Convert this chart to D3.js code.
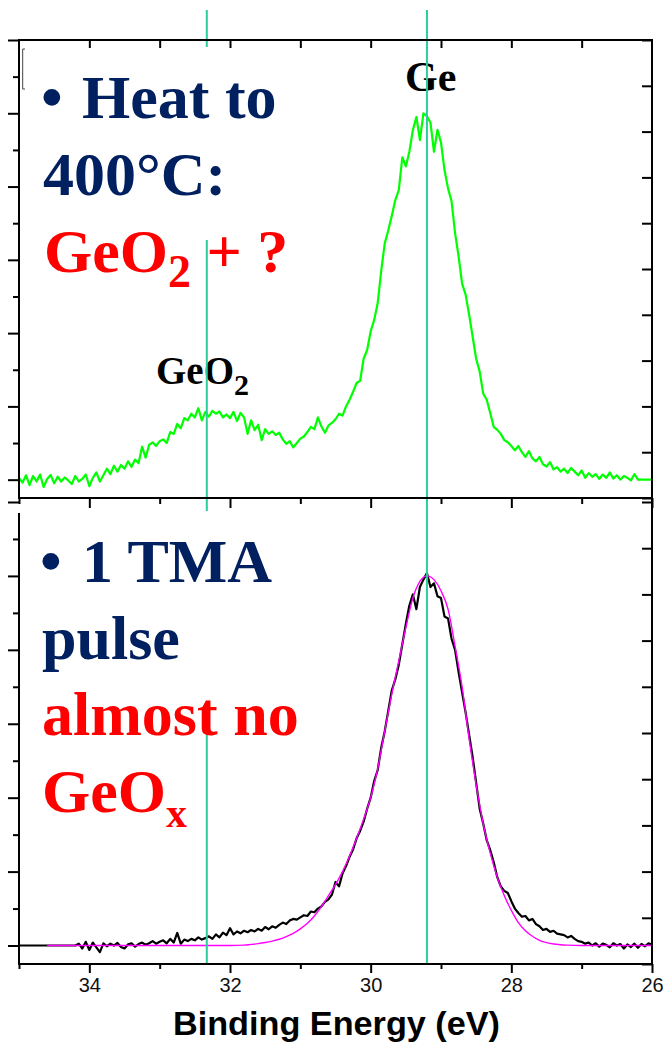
<!DOCTYPE html>
<html>
<head>
<meta charset="utf-8">
<script src="https://cdn.jsdelivr.net/npm/d3@7"></script>
<style>
  html, body { margin: 0; padding: 0; background: #fff; }
  svg { display: block; }
</style>
</head>
<body>
<svg id="chart" width="663" height="1043"></svg>
<script>
// Ge 3d spectra: [binding energy (eV), intensity (arb. units)]
const heatedSpectrum = [
  [35.00,0.05],[34.95,-0.08],[34.90,0.12],[34.85,-0.15],[34.80,0.10],[34.75,-0.05],[34.70,0.14],[34.65,-0.20],
  [34.60,0.02],[34.55,0.13],[34.50,-0.10],[34.45,0.08],[34.40,-0.05],[34.35,0.06],[34.30,-0.02],[34.25,-0.12],
  [34.20,0.10],[34.15,-0.05],[34.10,0.02],[34.05,0.14],[34.00,-0.18],[33.95,0.05],[33.90,0.20],[33.85,-0.05],
  [33.80,0.12],[33.75,0.30],[33.70,0.15],[33.65,0.38],[33.60,0.22],[33.55,0.40],[33.50,0.30],[33.45,0.50],
  [33.40,0.35],[33.35,0.55],[33.30,0.45],[33.25,0.90],[33.20,0.60],[33.15,0.95],[33.10,1.02],[33.05,0.92],
  [33.00,1.05],[32.95,1.10],[32.90,1.00],[32.85,1.30],[32.80,1.25],[32.75,1.52],[32.70,1.40],[32.65,1.68],
  [32.60,1.62],[32.55,1.80],[32.50,1.70],[32.45,1.95],[32.40,1.62],[32.35,1.85],[32.30,1.72],[32.25,1.88],
  [32.20,1.80],[32.15,1.86],[32.10,1.70],[32.05,1.78],[32.00,1.68],[31.95,1.85],[31.90,1.60],[31.85,1.82],
  [31.80,1.70],[31.75,1.25],[31.70,1.62],[31.65,1.35],[31.60,1.50],[31.55,1.08],[31.50,1.38],[31.45,1.25],
  [31.40,1.32],[31.35,1.22],[31.30,1.28],[31.25,1.10],[31.20,0.98],[31.15,1.05],[31.10,0.88],[31.05,1.00],
  [31.00,1.12],[30.95,1.18],[30.90,1.30],[30.85,1.44],[30.80,1.38],[30.75,1.70],[30.70,1.45],[30.65,1.28],
  [30.60,1.48],[30.55,1.55],[30.50,1.65],[30.45,1.80],[30.40,1.75],[30.35,2.00],[30.30,2.18],[30.25,2.40],
  [30.20,2.64],[30.15,2.70],[30.10,3.30],[30.05,3.54],[30.00,4.05],[29.95,4.36],[29.90,4.82],[29.85,5.70],
  [29.80,6.45],[29.75,6.80],[29.70,7.20],[29.65,7.63],[29.60,7.90],[29.55,8.80],[29.50,8.55],[29.45,8.95],
  [29.40,9.54],[29.35,9.90],[29.30,9.27],[29.25,10.00],[29.20,9.92],[29.15,9.75],[29.10,8.95],[29.05,9.55],
  [29.00,9.20],[28.95,8.45],[28.90,7.95],[28.85,7.60],[28.80,6.73],[28.75,6.10],[28.70,5.35],[28.65,5.05],
  [28.60,4.50],[28.55,3.90],[28.50,3.30],[28.45,2.95],[28.40,2.35],[28.35,2.18],[28.30,1.82],[28.25,1.44],
  [28.20,1.36],[28.15,1.25],[28.10,1.08],[28.05,1.02],[28.00,0.92],[27.95,0.80],[27.90,0.92],[27.85,0.75],
  [27.80,0.62],[27.75,0.78],[27.70,0.58],[27.65,0.50],[27.60,0.62],[27.55,0.42],[27.50,0.36],[27.45,0.48],
  [27.40,0.28],[27.35,0.34],[27.30,0.22],[27.25,0.30],[27.20,0.18],[27.15,0.32],[27.10,0.22],[27.05,0.12],
  [27.00,0.25],[26.95,0.05],[26.90,0.18],[26.85,0.08],[26.80,0.15],[26.75,0.02],[26.70,0.14],[26.65,0.05],
  [26.60,0.20],[26.55,0.03],[26.50,0.12],[26.45,0.00],[26.40,0.10],[26.35,0.05],[26.30,-0.02],[26.25,0.15],
  [26.20,0.00],[26.15,0.00],[26.10,0.00],[26.05,0.00],[26.00,0.00]
];

const tmaSpectrum = [
  [35.00,0],[34.95,0],[34.90,0],[34.85,0],[34.80,0],[34.75,0],[34.70,0],[34.65,0],[34.60,0],[34.55,0],
  [34.50,0],[34.45,0],[34.40,0],[34.35,0],[34.30,0],[34.25,0],[34.20,0],[34.15,0.05],[34.10,-0.08],[34.05,0.10],
  [34.00,-0.12],[33.95,0.08],[33.90,-0.05],[33.85,-0.18],[33.80,0.06],[33.75,-0.02],[33.70,0.05],[33.65,0.00],
  [33.60,0.07],[33.55,-0.04],[33.50,-0.08],[33.45,0.03],[33.40,0.06],[33.35,-0.03],[33.30,0.04],[33.25,0.08],
  [33.20,0.02],[33.15,0.06],[33.10,0.12],[33.05,0.05],[33.00,0.10],[32.95,0.14],[32.90,0.06],[32.85,0.18],
  [32.80,0.08],[32.75,0.34],[32.70,0.05],[32.65,0.16],[32.60,0.12],[32.55,0.18],[32.50,0.14],[32.45,0.22],
  [32.40,0.16],[32.35,0.20],[32.30,0.25],[32.25,0.18],[32.20,0.30],[32.15,0.22],[32.10,0.35],[32.05,0.28],
  [32.00,0.47],[31.95,0.30],[31.90,0.38],[31.85,0.33],[31.80,0.40],[31.75,0.36],[31.70,0.42],[31.65,0.38],
  [31.60,0.45],[31.55,0.40],[31.50,0.50],[31.45,0.44],[31.40,0.52],[31.35,0.48],[31.30,0.56],[31.25,0.62],
  [31.20,0.58],[31.15,0.68],[31.10,0.72],[31.05,0.70],[31.00,0.76],[30.95,0.82],[30.90,0.80],[30.85,0.92],
  [30.80,0.90],[30.75,1.00],[30.70,1.06],[30.65,1.18],[30.60,1.25],[30.55,1.38],[30.50,1.72],[30.45,1.60],
  [30.40,1.95],[30.35,2.15],[30.30,2.40],[30.25,2.60],[30.20,2.90],[30.15,3.10],[30.10,3.35],[30.05,3.70],
  [30.00,4.00],[29.95,4.45],[29.90,4.75],[29.85,5.35],[29.80,5.80],[29.75,6.35],[29.70,6.90],[29.65,7.20],
  [29.60,7.60],[29.55,8.15],[29.50,8.70],[29.45,9.20],[29.40,9.50],[29.35,9.10],[29.30,9.70],[29.25,9.90],
  [29.20,10.08],[29.15,9.70],[29.10,9.80],[29.05,9.45],[29.00,9.40],[28.95,8.90],[28.90,8.85],[28.85,8.30],
  [28.80,8.00],[28.75,7.40],[28.70,6.85],[28.65,6.30],[28.60,5.70],[28.55,5.10],[28.50,4.40],[28.45,3.70],
  [28.40,3.30],[28.35,2.85],[28.30,2.58],[28.25,2.25],[28.20,1.85],[28.15,1.60],[28.10,1.48],[28.05,1.42],
  [28.00,1.20],[27.95,1.00],[27.90,0.88],[27.85,0.78],[27.80,0.80],[27.75,0.68],[27.70,0.72],[27.65,0.58],
  [27.60,0.52],[27.55,0.42],[27.50,0.45],[27.45,0.37],[27.40,0.40],[27.35,0.32],[27.30,0.30],[27.25,0.28],
  [27.20,0.22],[27.15,0.26],[27.10,0.18],[27.05,0.12],[27.00,0.10],[26.95,0.05],[26.90,0.08],[26.85,0.00],
  [26.80,0.06],[26.75,-0.03],[26.70,0.05],[26.65,0.02],[26.60,-0.05],[26.55,0.06],[26.50,0.00],[26.45,0.04],
  [26.40,-0.08],[26.35,0.03],[26.30,-0.04],[26.25,0.05],[26.20,-0.06],[26.15,0.04],[26.10,-0.02],[26.05,0.06],
  [26.00,0.02]
];

// Peak fit to the TMA-pulsed spectrum
const tmaFit = [
  [34.6,0],[34.0,0],[33.0,0],[32.0,0],[31.8,0.01],[31.7,0.03],[31.6,0.05],[31.5,0.08],[31.4,0.12],
  [31.3,0.17],[31.2,0.24],[31.1,0.33],[31.0,0.45],[30.9,0.60],[30.8,0.80],[30.7,1.05],[30.6,1.35],
  [30.5,1.65],[30.4,2.00],[30.3,2.42],[30.2,2.90],[30.1,3.42],[30.0,4.00],[29.9,4.78],[29.8,5.80],
  [29.7,6.80],[29.6,7.70],[29.5,8.60],[29.4,9.40],[29.3,9.85],[29.2,10.00],[29.1,9.90],[29.0,9.60],
  [28.9,9.10],[28.8,8.10],[28.7,7.00],[28.6,5.60],[28.5,4.35],[28.4,3.30],[28.3,2.50],[28.2,1.85],
  [28.1,1.35],[28.0,0.95],[27.9,0.62],[27.8,0.40],[27.7,0.25],[27.6,0.14],[27.5,0.08],[27.4,0.04],
  [27.3,0.02],[27.2,0.01],[27.0,0],[26.0,0]
];

// Reference binding energies: GeO2 and Ge
const markerEnergies = [32.33, 29.20];

// Axis ticks
const energyMajorTicks = [34, 32, 30, 28, 26];
const energyMinorTicks = [35, 33, 31, 29, 27];
const energyTopTicks = [34, 33, 32, 31, 30, 29, 28, 27];
const intensityMajorTicks = [0, 2, 4, 6, 8, 10, 12];
const intensityMinorTicks = [1, 3, 5, 7, 9, 11];
const rightTicks = [0, 1, 2, 3, 4, 5, 6, 7, 8, 9, 10];

const NAVY = "#002060", RED = "#ff0000", TEAL = "#2bcc9e";
const SERIF = "'Liberation Serif', 'Times New Roman', serif";
const SANS = "'Liberation Sans', Arial, sans-serif";

const svg = d3.select("#chart");
svg.append("rect").attr("width", 663).attr("height", 1043).attr("fill", "#fff");

const x = d3.scaleLinear().domain([35, 26]).range([19, 652]);
const yTop = d3.scaleLinear().domain([-0.5, 12]).range([498, 40]);
const yBot = d3.scaleLinear().domain([-0.5, 12]).range([964, 502]);
const rTop = d3.scaleLinear().domain([0, 10]).range([498, 40]);
const rBot = d3.scaleLinear().domain([0, 10]).range([964, 502]);

const lineFor = (y, curve) => d3.line().x(d => x(d[0])).y(d => y(d[1])).curve(curve || d3.curveLinear);

// Spectra
const curves = svg.append("g").attr("fill", "none").attr("stroke-linejoin", "round");
curves.append("path").datum(heatedSpectrum).attr("d", lineFor(yTop))
  .attr("stroke", "#00ff00").attr("stroke-width", 2.2);
curves.append("path").datum(tmaSpectrum).attr("d", lineFor(yBot))
  .attr("stroke", "#000").attr("stroke-width", 2.2);
curves.append("path").datum(tmaFit).attr("d", lineFor(yBot, d3.curveMonotoneX))
  .attr("stroke", "#ff00ff").attr("stroke-width", 1.4);

// Peak labels
svg.append("text").attr("x", 405).attr("y", 91)
  .attr("font-family", SERIF).attr("font-weight", "bold").attr("font-size", 42)
  .attr("fill", "#000").text("Ge");
const geo2 = svg.append("text").attr("x", 156).attr("y", 384)
  .attr("font-family", SERIF).attr("font-weight", "bold").attr("font-size", 39).attr("fill", "#000");
geo2.append("tspan").text("GeO");
geo2.append("tspan").attr("font-size", 30).attr("dy", 11).text("2");

// Reference lines
svg.append("g").selectAll("line").data(markerEnergies).join("line")
  .attr("x1", d => x(d)).attr("x2", d => x(d))
  .attr("y1", 10).attr("y2", 964)
  .attr("stroke", TEAL).attr("stroke-width", 2);

// Text boxes with white fill
svg.append("rect").attr("x", 21).attr("y", 47).attr("width", 310).attr("height", 193).attr("fill", "#fff");
svg.append("rect").attr("x", 21).attr("y", 511).attr("width", 310).attr("height", 224).attr("fill", "#fff");
svg.append("path").attr("d", "M25,49 H22.7 V89 H25").attr("fill", "none")
  .attr("stroke", "#444").attr("stroke-width", 1);

function addText(xp, yp, color, str, size) {
  return svg.append("text").attr("x", xp).attr("y", yp)
    .attr("font-family", SERIF).attr("font-weight", "bold")
    .attr("font-size", size || 62).attr("fill", color).text(str);
}

addText(41, 118, NAVY, "\u2022");
addText(82, 118, NAVY, "Heat to");
addText(43, 195, NAVY, "400\u00B0C:");
const t3 = addText(44, 272, RED, "");
t3.append("tspan").text("GeO");
t3.append("tspan").attr("font-size", 46).attr("dy", 15).text("2");
t3.append("tspan").attr("dy", -15).text("\u00A0+ ?");

addText(40, 582, NAVY, "\u2022");
addText(82, 582, NAVY, "1 TMA");
addText(42, 659, NAVY, "pulse");
addText(42, 735, RED, "almost no");
const t4 = addText(42, 812, RED, "");
t4.append("tspan").text("GeO");
t4.append("tspan").attr("font-size", 42).attr("dy", 15).text("x");

// Axes
function tickAxis(axisFn, scale, values, size, tx, ty, labels) {
  const a = axisFn(scale).tickValues(values).tickSize(size).tickSizeOuter(0)
    .tickFormat(labels ? d3.format("d") : () => "");
  const g = svg.append("g").attr("transform", `translate(${tx},${ty})`).call(a);
  g.select(".domain").remove();
  g.selectAll(".tick line").attr("stroke", "#000").attr("stroke-width", 2);
  return g;
}

// top panel
tickAxis(d3.axisLeft, yTop, intensityMajorTicks, 11, 19, 0);
tickAxis(d3.axisLeft, yTop, intensityMinorTicks, 6, 19, 0);
tickAxis(d3.axisLeft, rTop, rightTicks, 10, 652, 0);
tickAxis(d3.axisBottom, x, energyTopTicks, 8, 0, 40);
tickAxis(d3.axisBottom, x, energyMajorTicks, 10, 0, 498);
tickAxis(d3.axisBottom, x, energyMinorTicks, 6, 0, 498);

// bottom panel
tickAxis(d3.axisLeft, yBot, intensityMajorTicks, 11, 19, 0);
tickAxis(d3.axisLeft, yBot, intensityMinorTicks, 6, 19, 0);
tickAxis(d3.axisLeft, rBot, rightTicks, 10, 652, 0);
tickAxis(d3.axisBottom, x, energyMinorTicks, 5, 0, 964);
const bottomAxis = tickAxis(d3.axisBottom, x, energyMajorTicks, 9, 0, 964, true);
bottomAxis.selectAll(".tick text")
  .attr("font-family", SANS).attr("font-size", 20).attr("fill", "#111")
  .attr("y", 14).attr("dy", "0.71em");

// frames
const frame = svg.append("g").attr("stroke", "#000").attr("stroke-width", 2).attr("fill", "none");
frame.append("path").attr("d",
  `M${x(35)},${yTop(12)} H${x(26)} V${yTop(-0.5)} H${x(35)} Z`);
frame.append("path").attr("d",
  `M${x(35)},513 V${yBot(-0.5)} H${x(26)} V${rTop(0)}`);

// axis title
svg.append("text").attr("x", 336.5).attr("y", 1035).attr("text-anchor", "middle")
  .attr("font-family", SANS).attr("font-weight", "bold").attr("font-size", 33)
  .attr("textLength", 327).attr("lengthAdjust", "spacingAndGlyphs")
  .attr("fill", "#000").text("Binding Energy (eV)");
</script>
</body>
</html>
